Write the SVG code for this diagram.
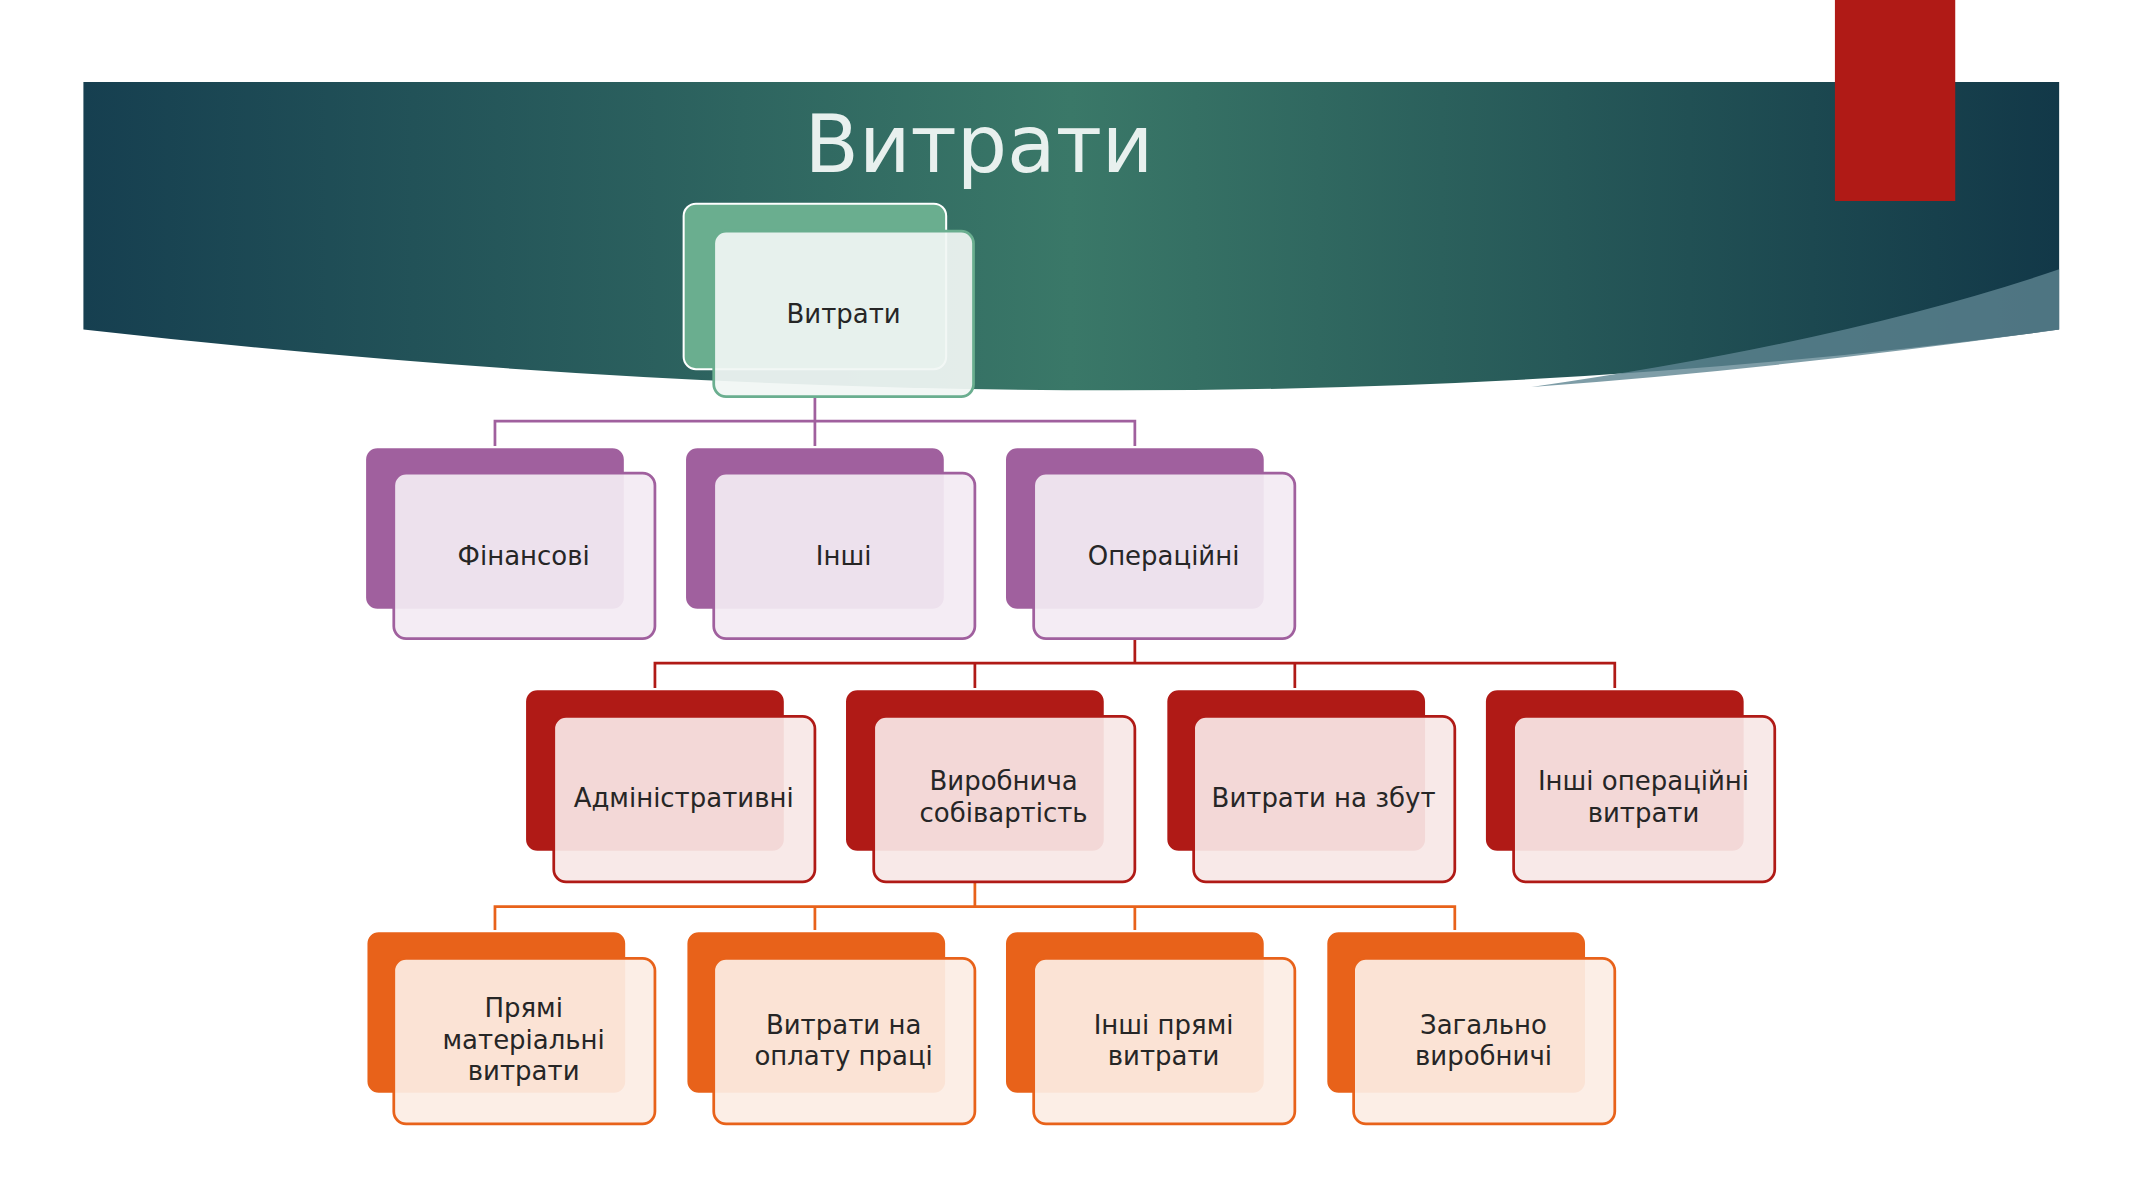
<svg xmlns="http://www.w3.org/2000/svg" width="2133" height="1200" viewBox="0 0 2133 1200">
<defs>
<linearGradient id="bg" x1="0" y1="0" x2="1" y2="0">
<stop offset="0" stop-color="#163f50"/><stop offset="0.5" stop-color="#3a7868"/><stop offset="1" stop-color="#123848"/>
</linearGradient>
<style>
.t{font-family:"DejaVu Sans",sans-serif;font-size:19px;fill:#262626;text-anchor:middle}
.bk{stroke:#fff;stroke-width:1.5}
.fr{stroke-width:2}
.g .bk{fill:#6aae8f}.g .fr{fill:#f1f6f4;fill-opacity:.93;stroke:#6aae8f}
.p .bk{fill:#a0609e}.p .fr{fill:#f3ebf3;fill-opacity:.93;stroke:#a0609e}
.r .bk{fill:#b01a16}.r .fr{fill:#f7e7e6;fill-opacity:.93;stroke:#b01a16}
.o .bk{fill:#e8621a}.o .fr{fill:#fcede4;fill-opacity:.93;stroke:#e8621a}
.c{fill:none;stroke-width:2}
</style>
</defs>
<rect width="2133" height="1200" fill="#fff"/>
<g transform="scale(1.3673)">
<path d="M61 60 H1506 V241 Q850 330 61 241 Z" fill="url(#bg)"/>
<path d="M1506 197 V241 Q1300 270 1120 283 Q1350 250 1506 197 Z" fill="#5e8591" opacity="0.8"/>
<rect x="1342" y="0" width="88" height="147" fill="#b01a16"/>
<text x="716" y="126" style="font-family:'DejaVu Sans',sans-serif;font-size:58px;fill:#e8f0ee;text-anchor:middle">Витрати</text>
<g id="connectors">
<path class="c" stroke="#a0609e" d="M596 290 V308 M362 327 V308 H830 V327 M596 308 V327"/>
<path class="c" stroke="#b01a16" d="M830 467 V485 M479 504 V485 H1181 V504 M713 485 V504 M947 485 V504"/>
<path class="c" stroke="#e8621a" d="M713 645 V663 M362 681 V663 H1064 V681 M596 663 V681 M830 663 V681"/>
</g>
<g id="root" class="g"><rect class="bk" x="500" y="149" width="192" height="121" rx="9"/><rect class="fr" x="522" y="169" width="190" height="121" rx="9"/><text class="t" x="617" y="236">Витрати</text></g>
<g id="fin" class="p"><rect class="bk" x="267" y="327" width="190" height="119" rx="9"/><rect class="fr" x="288" y="346" width="191" height="121" rx="9"/><text class="t" x="383" y="413">Фінансові</text></g>
<g id="inshi" class="p"><rect class="bk" x="501" y="327" width="190" height="119" rx="9"/><rect class="fr" x="522" y="346" width="191" height="121" rx="9"/><text class="t" x="617" y="413">Інші</text></g>
<g id="oper" class="p"><rect class="bk" x="735" y="327" width="190" height="119" rx="9"/><rect class="fr" x="756" y="346" width="191" height="121" rx="9"/><text class="t" x="851" y="413">Операційні</text></g>
<g id="adm" class="r"><rect class="bk" x="384" y="504" width="190" height="119" rx="9"/><rect class="fr" x="405" y="524" width="191" height="121" rx="9"/><text class="t" x="500" y="590">Адміністративні</text></g>
<g id="vyr" class="r"><rect class="bk" x="618" y="504" width="190" height="119" rx="9"/><rect class="fr" x="639" y="524" width="191" height="121" rx="9"/><text class="t" x="734" y="578">Виробнича</text><text class="t" x="734" y="601">собівартість</text></g>
<g id="zbut" class="r"><rect class="bk" x="853" y="504" width="190" height="119" rx="9"/><rect class="fr" x="873" y="524" width="191" height="121" rx="9"/><text class="t" x="968" y="590">Витрати на збут</text></g>
<g id="inoper" class="r"><rect class="bk" x="1086" y="504" width="190" height="119" rx="9"/><rect class="fr" x="1107" y="524" width="191" height="121" rx="9"/><text class="t" x="1202" y="578">Інші операційні</text><text class="t" x="1202" y="601">витрати</text></g>
<g id="pmv" class="o"><rect class="bk" x="268" y="681" width="190" height="119" rx="9"/><rect class="fr" x="288" y="701" width="191" height="121" rx="9"/><text class="t" x="383" y="744">Прямі</text><text class="t" x="383" y="767">матеріальні</text><text class="t" x="383" y="790">витрати</text></g>
<g id="opl" class="o"><rect class="bk" x="502" y="681" width="190" height="119" rx="9"/><rect class="fr" x="522" y="701" width="191" height="121" rx="9"/><text class="t" x="617" y="756">Витрати на</text><text class="t" x="617" y="779">оплату праці</text></g>
<g id="inpr" class="o"><rect class="bk" x="735" y="681" width="190" height="119" rx="9"/><rect class="fr" x="756" y="701" width="191" height="121" rx="9"/><text class="t" x="851" y="756">Інші прямі</text><text class="t" x="851" y="779">витрати</text></g>
<g id="zag" class="o"><rect class="bk" x="970" y="681" width="190" height="119" rx="9"/><rect class="fr" x="990" y="701" width="191" height="121" rx="9"/><text class="t" x="1085" y="756">Загально</text><text class="t" x="1085" y="779">виробничі</text></g>
</g>
</svg>
